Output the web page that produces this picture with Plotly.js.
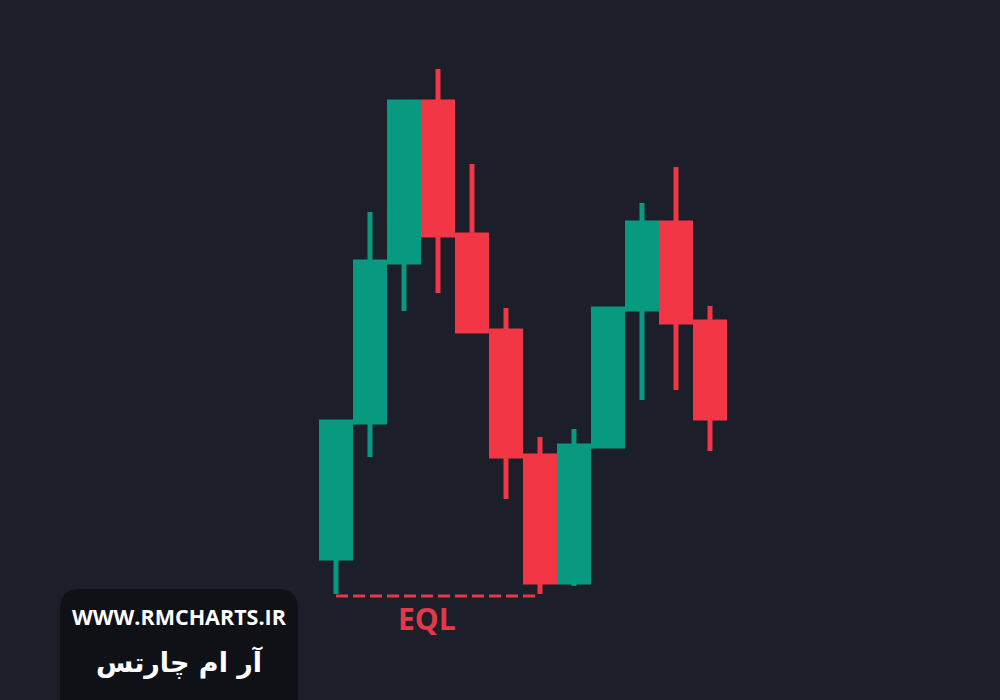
<!DOCTYPE html>
<html>
<head>
<meta charset="utf-8">
<script src="https://cdn.plot.ly/plotly-3.0.1.min.js"></script>
<style>
html,body{margin:0;padding:0;background:#1c1f2a;}
#chart{width:1000px;height:700px;}
</style>
</head>
<body>
<div id="chart"></div>
<script>
// Candle index (time order)
const candleIndex = [0, 1, 2, 3, 4, 5, 6, 7, 8, 9, 10, 11];
// OHLC values
const openValues  = [142, 278, 438, 598, 465, 369, 244, 118, 254, 391, 477, 378];
const highValues  = [278, 488, 598, 631, 536, 392, 263, 271, 391, 497, 533, 394];
const lowValues   = [106, 243, 389, 407, 369, 201, 106, 114, 254, 300, 310, 249];
const closeValues = [278, 438, 598, 465, 369, 244, 118, 254, 391, 477, 378, 282];
// Equal lows marker
const eqlStart = 0;
const eqlEnd = 6;
const eqlLevel = 104;
const eqlLabel = "EQL";
const siteText = "WWW.RMCHARTS.IR";
const brandText = "آر ام چارتس";

const green = "#089981";
const red = "#F23645";
const lineW = 5;

const trace = {
  type: "candlestick",
  x: candleIndex,
  open: openValues,
  high: highValues,
  low: lowValues,
  close: closeValues,
  increasing: {line: {color: green, width: lineW}, fillcolor: green},
  decreasing: {line: {color: red, width: lineW}, fillcolor: red},
  whiskerwidth: 0,
  hoverinfo: "skip",
  showlegend: false
};

const layout = {
  width: 1000,
  height: 700,
  margin: {l: 0, r: 0, t: 0, b: 0, pad: 0},
  paper_bgcolor: "#1c1f2a",
  plot_bgcolor: "#1c1f2a",
  boxgap: lineW / 34,
  boxgroupgap: 0,
  showlegend: false,
  xaxis: {
    range: [-336 / 34, -336 / 34 + 1000 / 34],
    visible: false, showgrid: false, zeroline: false, fixedrange: true,
    rangeslider: {visible: false}
  },
  yaxis: {
    range: [0, 700],
    visible: false, showgrid: false, zeroline: false, fixedrange: true
  },
  shapes: [
    {
      type: "line", xref: "x", yref: "y",
      x0: eqlStart, x1: eqlEnd, y0: eqlLevel, y1: eqlLevel,
      line: {color: "#E23A48", width: 3, dash: "12px,5px"},
      layer: "above"
    },
    {
      type: "path", xref: "paper", yref: "paper",
      path: "M 0.06,-0.02 L 0.06,0.13 Q 0.06,0.15857 0.08,0.15857 L 0.278,0.15857 Q 0.298,0.15857 0.298,0.13 L 0.298,-0.02 Z",
      fillcolor: "#0f1117",
      line: {width: 0},
      layer: "above"
    }
  ],
  annotations: [
    {
      xref: "paper", yref: "paper",
      x: 427 / 1000, y: 1 - 618 / 700,
      xanchor: "center", yanchor: "middle",
      text: "<b>" + eqlLabel + "</b>",
      showarrow: false,
      font: {family: "'Open Sans', Lato, sans-serif", size: 30, color: "#E23A48"}
    },
    {
      xref: "paper", yref: "paper",
      x: 179 / 1000, y: 1 - 616 / 700,
      xanchor: "center", yanchor: "middle",
      text: "<b>" + siteText + "</b>",
      showarrow: false,
      font: {family: "'Open Sans', Lato, sans-serif", size: 21.5, color: "#ffffff"}
    },
    {
      xref: "paper", yref: "paper",
      x: 179 / 1000, y: 1 - 662 / 700,
      xanchor: "center", yanchor: "middle",
      text: "<b>" + brandText + "</b>",
      showarrow: false,
      font: {family: "'DejaVu Sans', sans-serif", size: 27, color: "#ffffff"}
    }
  ]
};

Plotly.newPlot("chart", [trace], layout, {displayModeBar: false, staticPlot: true});
</script>
</body>
</html>
